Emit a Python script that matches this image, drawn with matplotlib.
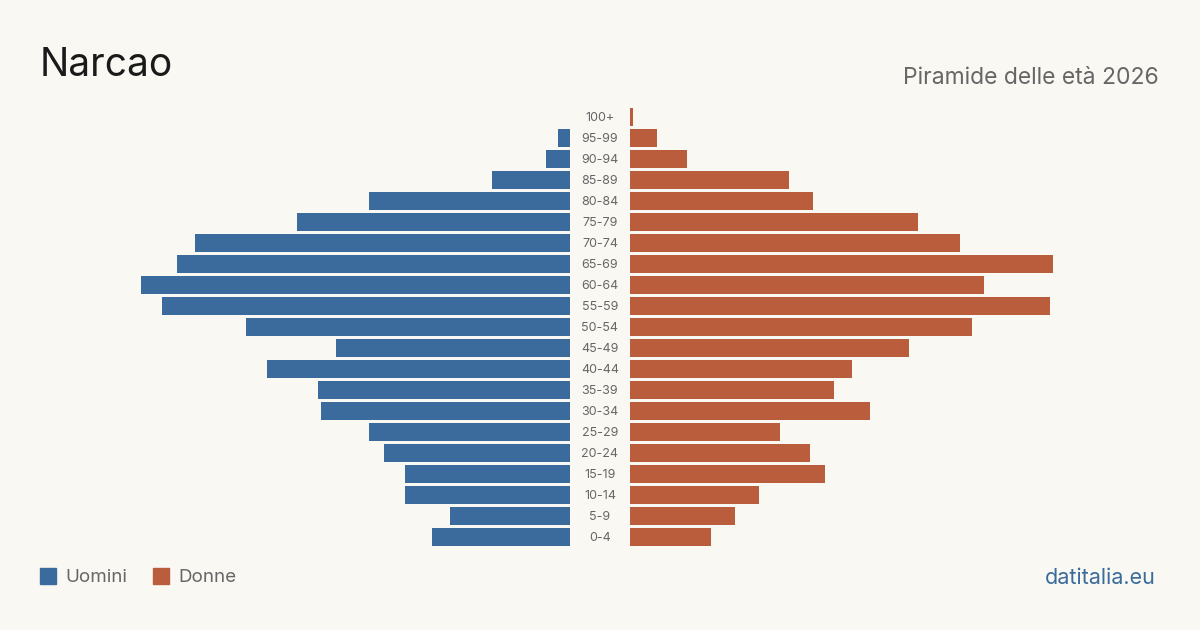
import matplotlib.pyplot as plt
from matplotlib.patches import Rectangle

plt.rcParams['font.family'] = ['Inter', 'DejaVu Sans']

age_groups = ['0-4', '5-9', '10-14', '15-19', '20-24', '25-29', '30-34', '35-39',
              '40-44', '45-49', '50-54', '55-59', '60-64', '65-69', '70-74',
              '75-79', '80-84', '85-89', '90-94', '95-99', '100+']
men = [46, 40, 55, 55, 62, 67, 83, 84, 101, 78, 108, 136, 143, 131, 125,
       91, 67, 26, 8, 4, 0]
women = [27, 35, 43, 65, 60, 50, 80, 68, 74, 93, 114, 140, 118, 141, 110,
         96, 61, 53, 19, 9, 1]

BG = '#f9f8f3'
BLUE = '#3b6b9c'
ORANGE = '#b95d3d'
GREY = '#666666'

W, H = 1200, 630
fig = plt.figure(figsize=(W / 100, H / 100), dpi=100, facecolor=BG)

# axes placed in pixel coordinates, 3 px per person
y_top, y_bot = 106.5, 547.5
ax_l = fig.add_axes([120 / W, (H - y_bot) / H, 450 / W, (y_bot - y_top) / H])
ax_r = fig.add_axes([630 / W, (H - y_bot) / H, 450 / W, (y_bot - y_top) / H])

pos = list(range(len(age_groups)))
ax_l.barh(pos, men, height=0.84, color=BLUE)
ax_r.barh(pos, women, height=0.84, color=ORANGE)
ax_l.set_xlim(150, 0)
ax_r.set_xlim(0, 150)

for ax in (ax_l, ax_r):
    ax.set_ylim(-0.5, len(age_groups) - 0.5)
    ax.set_facecolor('none')
    ax.axis('off')

for i, lab in enumerate(age_groups):
    y = (H - (538 - 21 * i)) / H
    fig.text(600 / W, y, lab, ha='center', va='center', fontsize=9, color=GREY)

fig.text(40 / W, (H - 66) / H, 'Narcao', fontsize=28, color='#1a1a1a',
         ha='left', va='center')
fig.text(1159 / W, (H - 78) / H, 'Piramide delle età 2026', fontsize=16.5,
         color=GREY, ha='right', va='center')

# legend
fig.patches.append(Rectangle((40 / W, (H - 584) / H), 16 / W, 16 / H,
                             transform=fig.transFigure, color=BLUE))
fig.text(65 / W, (H - 578) / H, 'Uomini', fontsize=13.5, color=GREY,
         ha='left', va='center')
fig.patches.append(Rectangle((153 / W, (H - 584) / H), 16 / W, 16 / H,
                             transform=fig.transFigure, color=ORANGE))
fig.text(178 / W, (H - 578) / H, 'Donne', fontsize=13.5, color=GREY,
         ha='left', va='center')

fig.text(1156 / W, (H - 578) / H, 'datitalia.eu', fontsize=15.5, color=BLUE,
         ha='right', va='center')

fig.savefig('out.png', dpi=100, facecolor=BG)
